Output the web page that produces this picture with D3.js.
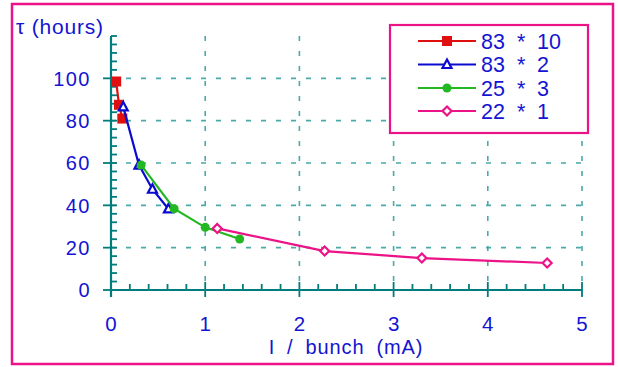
<!DOCTYPE html>
<html>
<head>
<meta charset="utf-8">
<script src="https://cdn.jsdelivr.net/npm/d3@7"></script>
<style>
  html, body { margin: 0; padding: 0; background: #fff; }
  svg { display: block; }
  text { font-family: "Liberation Sans", Arial, sans-serif; fill: #1414d2; }
</style>
</head>
<body>
<svg id="chart" width="618" height="367"></svg>
<script>
// Beam lifetime vs. current per bunch, for four fill patterns
const seriesNames = ["83  *  10", "83  *  2", "25  *  3", "22  *  1"];
const seriesColors = ["#e01010", "#0a0ad0", "#22b822", "#ec1287"];
const seriesMarkers = ["square", "triangle", "circle", "diamond"];

const fill83x10 = [[0.055, 98.5], [0.085, 87.5], [0.12, 81]];
const fill83x2 = [[0.13, 86.5], [0.297, 59], [0.44, 47.6], [0.61, 38.3]];
const fill25x3 = [[0.32, 59], [0.67, 38.4], [1.0, 29.6], [1.366, 24.1]];
const fill22x1 = [[1.128, 29.1], [2.268, 18.4], [3.30, 15.1], [4.63, 12.75]];
const seriesData = [fill83x10, fill83x2, fill25x3, fill22x1];

const xTicks = [0, 1, 2, 3, 4, 5];
const yTicks = [0, 20, 40, 60, 80, 100];

const svg = d3.select("#chart");
const axisColor = "#007c7c";
const gridColor = "#4aa9a9";

const x = d3.scaleLinear().domain([0, 5]).range([111, 582]);
const y = d3.scaleLinear().domain([0, 120]).range([290, 36]);

// outer frame
svg.append("rect").attr("x", 12).attr("y", 4).attr("width", 601).attr("height", 360)
  .attr("fill", "none").attr("stroke", "#ec1287").attr("stroke-width", 2.5);

// dashed grid
const grid = svg.append("g").attr("stroke", gridColor).attr("stroke-width", 1.6)
  .attr("stroke-dasharray", "5,10");
yTicks.filter(d => d > 0).forEach(v => {
  grid.append("line").attr("x1", x(0)).attr("x2", x(5)).attr("y1", y(v)).attr("y2", y(v));
});
xTicks.filter(d => d > 0).forEach(v => {
  grid.append("line").attr("x1", x(v)).attr("x2", x(v)).attr("y1", y(120)).attr("y2", y(0));
});

// axes: minor ticks point inward, major ticks cross the axis line
const axes = svg.append("g").attr("stroke", axisColor);
axes.append("line").attr("x1", x(0)).attr("x2", x(5)).attr("y1", y(0)).attr("y2", y(0)).attr("stroke-width", 2.2);
axes.append("line").attr("x1", x(0)).attr("x2", x(0)).attr("y1", y(120)).attr("y2", y(0) + 7).attr("stroke-width", 2.2);
d3.range(0, 121, 4).forEach(v => {
  const major = v % 20 === 0 && v <= 100;
  axes.append("line").attr("x1", major ? x(0) - 8 : x(0)).attr("x2", x(0) + 6)
    .attr("y1", y(v)).attr("y2", y(v)).attr("stroke-width", 1.8);
});
d3.range(0, 26).map(i => i * 0.2).forEach(v => {
  const major = Math.abs(v - Math.round(v)) < 1e-6;
  axes.append("line").attr("x1", x(v)).attr("x2", x(v))
    .attr("y1", y(0) - (major ? 8 : 6)).attr("y2", y(0) + (major ? 7 : 0)).attr("stroke-width", 1.8);
});

// tick labels
svg.append("g").selectAll("text").data(yTicks).join("text")
  .attr("x", 91).attr("y", d => y(d)).attr("dy", "0.36em").attr("text-anchor", "end")
  .attr("font-size", 20).attr("letter-spacing", 1.5).text(d => d);
svg.append("g").selectAll("text").data(xTicks).join("text")
  .attr("x", d => x(d)).attr("y", 331).attr("text-anchor", "middle")
  .attr("font-size", 20.5).text(d => d);

// axis titles
svg.append("text").attr("x", 346).attr("y", 353.5).attr("text-anchor", "middle")
  .attr("font-size", 20).attr("letter-spacing", 0.9).attr("word-spacing", 5.5).text("I / bunch  (mA)");
svg.append("text").attr("x", 16).attr("y", 34).attr("font-size", 21).attr("letter-spacing", 0.8).text("\u03c4 (hours)");

// marker drawing
function marker(g, type, color, cx, cy) {
  if (type === "square") {
    g.append("rect").attr("x", cx - 5).attr("y", cy - 5).attr("width", 10).attr("height", 10).attr("fill", color);
  } else if (type === "triangle") {
    g.append("path").attr("d", `M${cx},${cy - 5}L${cx + 4.5},${cy + 3.5}L${cx - 4.5},${cy + 3.5}Z`)
      .attr("fill", "#fff").attr("stroke", color).attr("stroke-width", 2.2);
  } else if (type === "circle") {
    g.append("circle").attr("cx", cx).attr("cy", cy).attr("r", 4.5).attr("fill", color);
  } else {
    g.append("path").attr("d", `M${cx},${cy - 4.5}L${cx + 4.5},${cy}L${cx},${cy + 4.5}L${cx - 4.5},${cy}Z`)
      .attr("fill", "#fff").attr("stroke", color).attr("stroke-width", 2.2);
  }
}

// series
const line = d3.line().x(d => x(d[0])).y(d => y(d[1]));
seriesData.forEach((data, i) => {
  const g = svg.append("g");
  g.append("path").attr("d", line(data)).attr("fill", "none")
    .attr("stroke", seriesColors[i]).attr("stroke-width", 2.2);
  data.forEach(d => marker(g, seriesMarkers[i], seriesColors[i], x(d[0]), y(d[1])));
});

// legend
const lg = svg.append("g");
lg.append("rect").attr("x", 390).attr("y", 25).attr("width", 198).attr("height", 108)
  .attr("fill", "#fff").attr("stroke", "#ec1287").attr("stroke-width", 2.2);
const rowY = [41, 64.5, 88, 111];
seriesNames.forEach((name, i) => {
  const yy = rowY[i];
  lg.append("line").attr("x1", 418).attr("x2", 476).attr("y1", yy).attr("y2", yy)
    .attr("stroke", seriesColors[i]).attr("stroke-width", 2.2);
  marker(lg, seriesMarkers[i], seriesColors[i], 447, yy);
  const parts = name.split("*").map(s => s.trim());
  lg.append("text").attr("x", 481).attr("y", yy).attr("dy", "0.36em").attr("font-size", 21.5).text(parts[0]);
  lg.append("text").attr("x", 517).attr("y", yy).attr("dy", "0.36em").attr("font-size", 21.5).text("*");
  lg.append("text").attr("x", 537).attr("y", yy).attr("dy", "0.36em").attr("font-size", 21.5).text(parts[1]);
});
</script>
</body>
</html>
